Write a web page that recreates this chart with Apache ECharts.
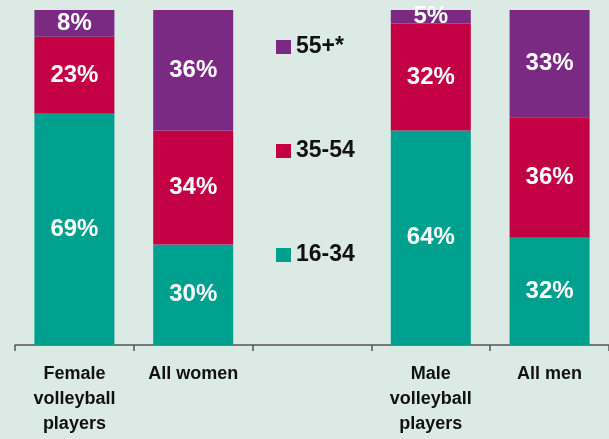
<!DOCTYPE html>
<html>
<head>
<meta charset="utf-8">
<script src="https://cdn.jsdelivr.net/npm/echarts@6/dist/echarts.min.js"></script>
<style>
  html, body { margin: 0; padding: 0; background: #dceae5; }
  #chart { width: 609px; height: 439px; }
</style>
</head>
<body>
<div id="chart"></div>
<script>
// categories (the middle one is empty, the legend sits there)
var categories = ['Female\nvolleyball\nplayers', 'All women', '', 'Male\nvolleyball\nplayers', 'All men'];
// age groups, % of each group
var age16to34 = [69, 30, null, 64, 32];
var age35to54 = [23, 34, null, 32, 36];
var age55plus = [8, 36, null, 5, 33];

var colors = { young: '#00a08e', mid: '#c40044', old: '#7b2a84' };

function makeSerie(name, data, color) {
	return {
		name: name,
		type: 'bar',
		stack: 'age',
		barWidth: 80,
		data: data,
		itemStyle: { color: color },
		label: {
			show: true,
			position: 'inside',
			color: '#fff',
			fontWeight: 'bold',
			fontSize: 24,
			fontFamily: 'Liberation Sans, Arial, sans-serif',
			formatter: '{c}%'
		}
	};
}

var chart = echarts.init(document.getElementById('chart'));
chart.setOption({
	backgroundColor: '#dceae5',
	animation: false,
	grid: { left: 15, right: 0, top: 10, bottom: 94 },
	legend: {
		orient: 'vertical',
		left: 276,
		top: 35,
		padding: 0,
		itemWidth: 15,
		itemHeight: 14,
		itemGap: 80,
		icon: 'rect',
		data: ['55+*', '35-54', '16-34'],
		textStyle: {
			color: '#111',
			fontWeight: 'bold',
			fontSize: 23,
			lineHeight: 24,
			fontFamily: 'Liberation Sans, Arial, sans-serif'
		}
	},
	xAxis: {
		type: 'category',
		data: categories,
		axisLine: { lineStyle: { color: '#555', width: 1.5 } },
		axisTick: { show: true, length: 6, lineStyle: { color: '#555', width: 1.5 } },
		axisLabel: {
			margin: 17,
			color: '#111',
			fontWeight: 'bold',
			fontSize: 18,
			lineHeight: 25,
			fontFamily: 'Liberation Sans, Arial, sans-serif'
		}
	},
	yAxis: {
		type: 'value',
		min: 0,
		max: 100,
		show: false,
		splitLine: { show: false }
	},
	series: [
		makeSerie('16-34', age16to34, colors.young),
		makeSerie('35-54', age35to54, colors.mid),
		makeSerie('55+*', age55plus, colors.old)
	]
});
</script>
</body>
</html>
